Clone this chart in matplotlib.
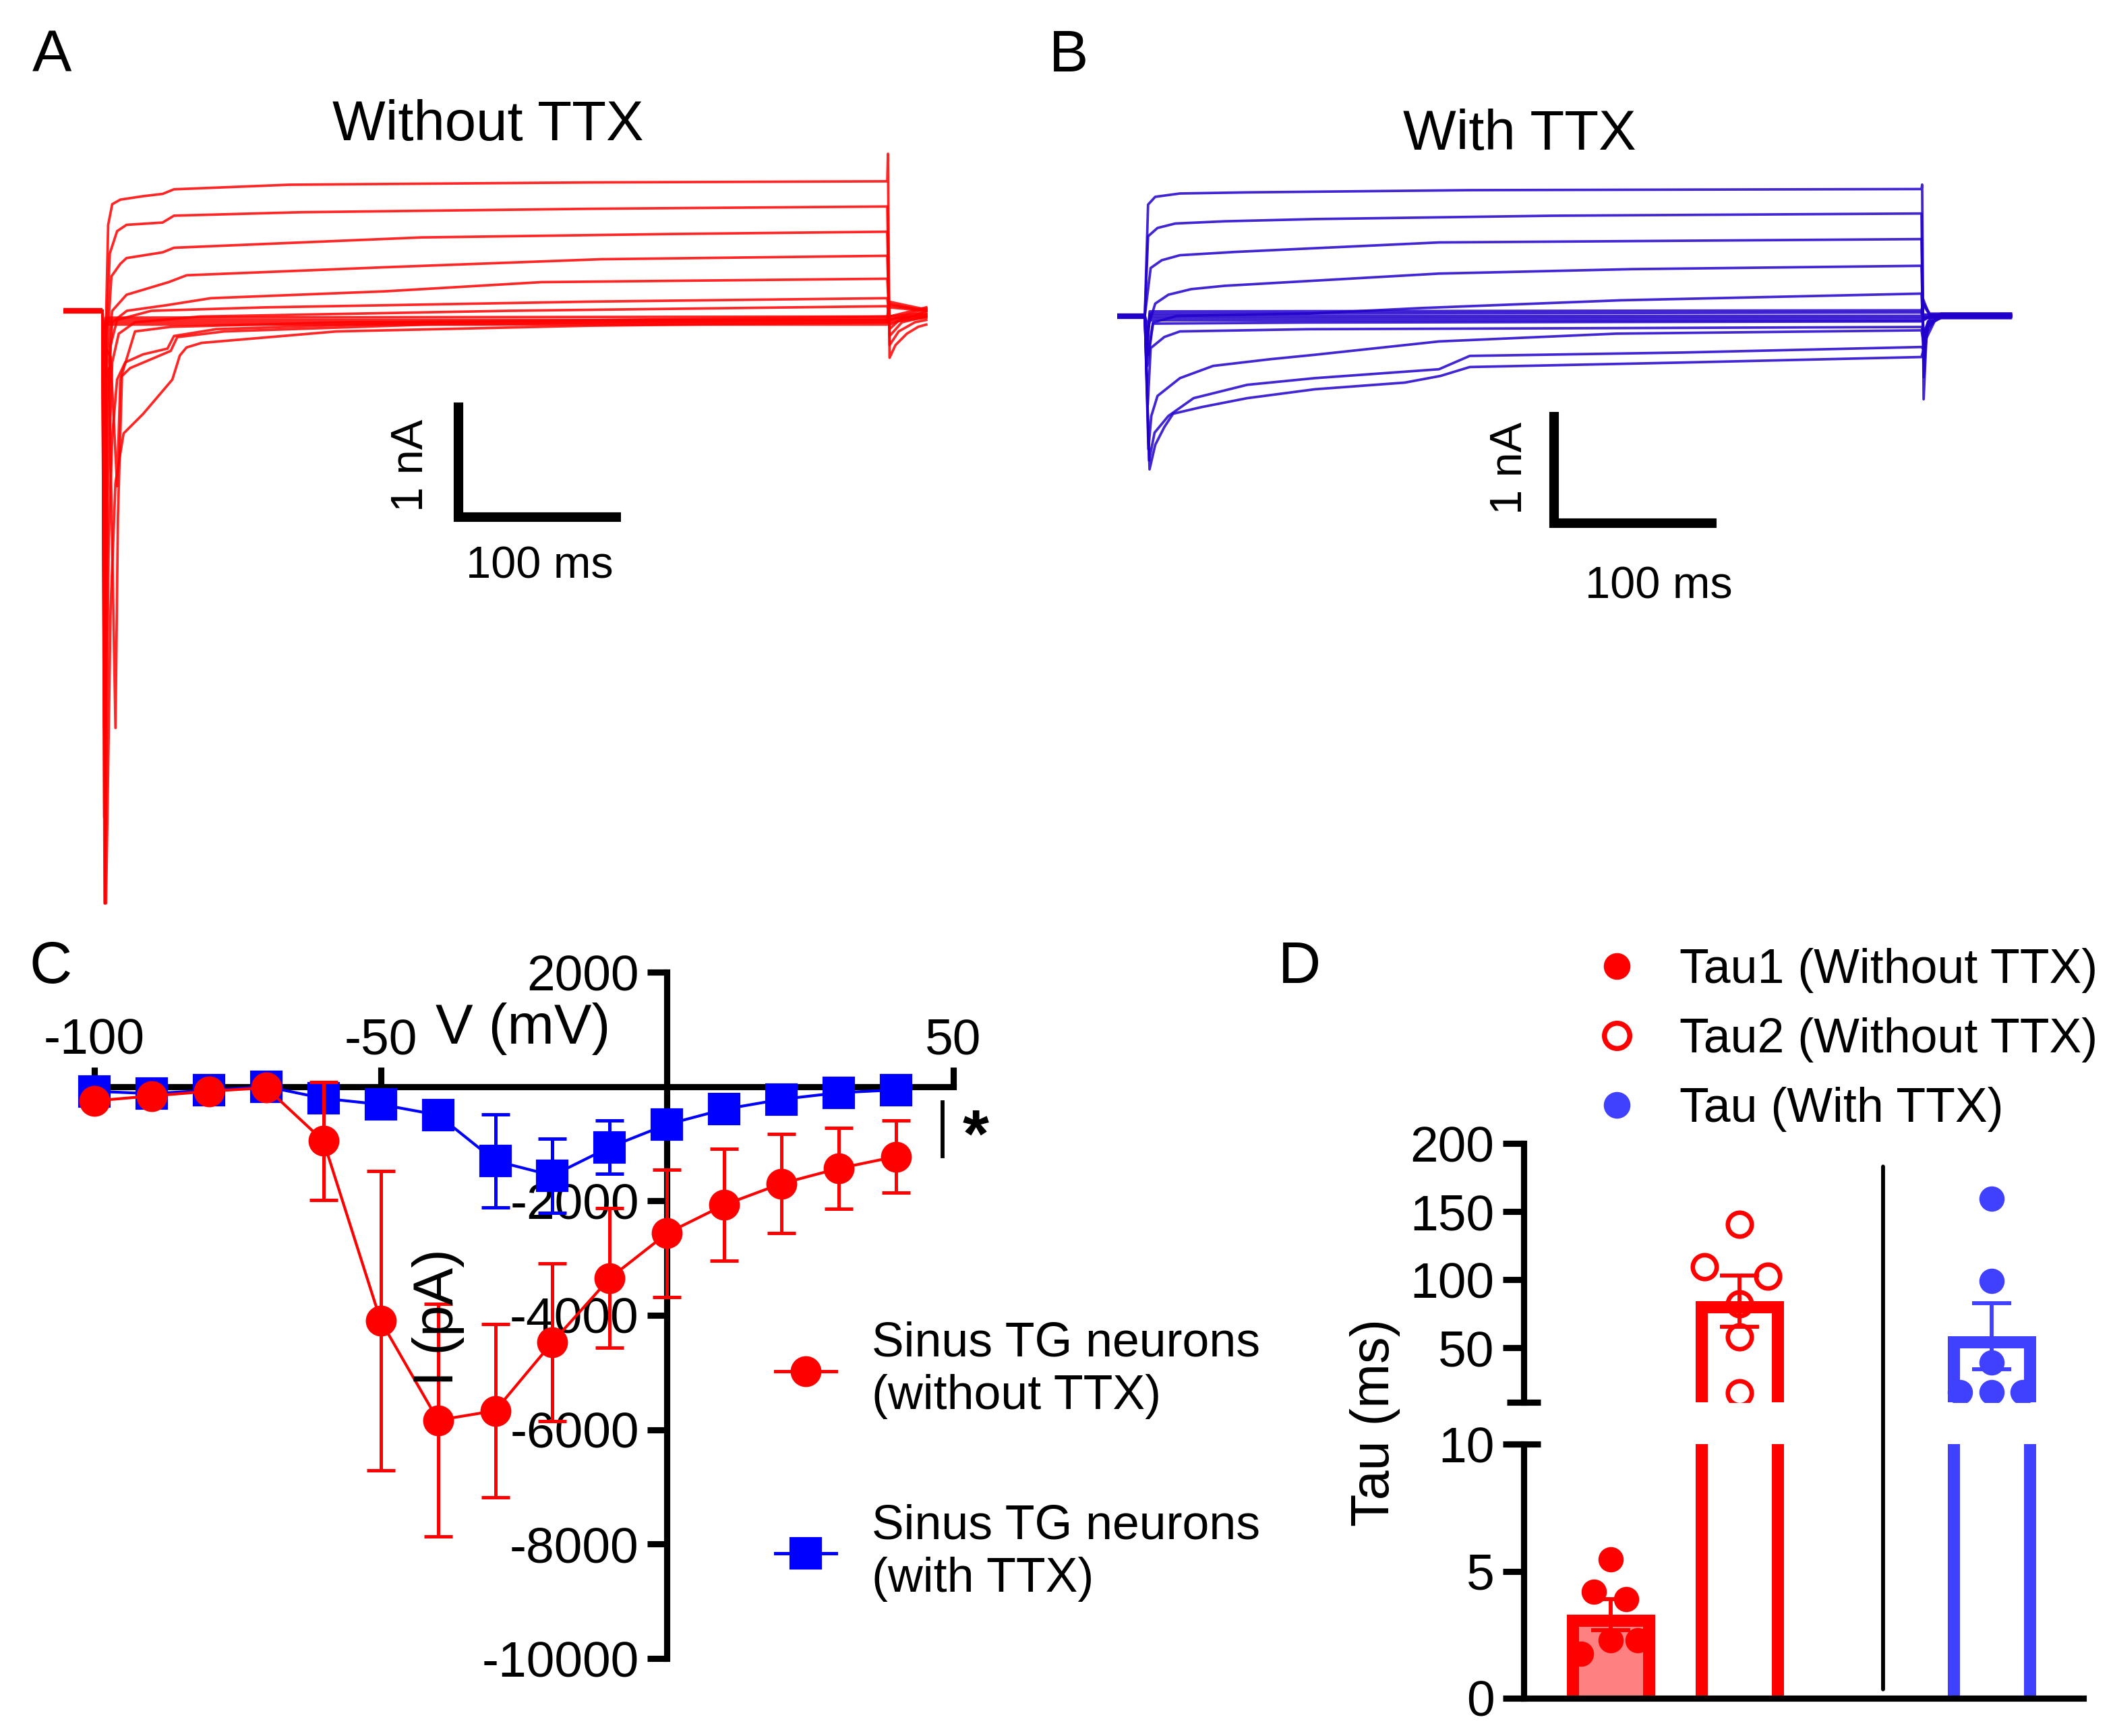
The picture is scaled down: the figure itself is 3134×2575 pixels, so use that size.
import matplotlib
matplotlib.use("Agg")
import matplotlib.pyplot as plt
from matplotlib.lines import Line2D
from matplotlib.patches import Rectangle, ConnectionPatch

plt.rcParams['font.family'] = ['Liberation Sans', 'DejaVu Sans']
plt.rcParams['axes.unicode_minus'] = False

W, H, DPI = 3134, 2575, 300

# ======================= DATA =======================
# Panels A/B: whole-cell current traces, (time ms, current nA), one per voltage step
A_step_end = 483
A_hold = [-24, 0]
A_traces = [
    [(0, 0), (0.7, -1.53), (2.0, -0.2), (3.5, 0.75), (6, 0.93), (11, 0.97), (25, 1.0), (37, 1.02), (44, 1.06), (115, 1.10), (300, 1.12), (483, 1.13), (483.4, 1.37), (484.4, -0.41), (488, -0.3), (495, -0.2), (502, -0.14), (507, -0.12)],
    [(0, 0), (0.8, -1.92), (2.2, -0.3), (4.5, 0.5), (9, 0.695), (14.8, 0.75), (37, 0.77), (44, 0.83), (122, 0.86), (300, 0.89), (483, 0.91), (484.4, -0.3), (490, -0.18), (500, -0.1), (507, -0.08)],
    [(0, 0), (0.8, -2.28), (2.4, -0.4), (5.5, 0.3), (11, 0.41), (14.8, 0.46), (37, 0.51), (44, 0.55), (196, 0.64), (350, 0.67), (483, 0.69), (484.4, -0.22), (492, -0.1), (507, -0.05)],
    [(0, 0), (0.9, -2.64), (2.6, -0.5), (6, 0.0), (14.8, 0.14), (40.7, 0.25), (51.8, 0.31), (174, 0.38), (307, 0.45), (483, 0.48), (484.4, -0.16), (492, -0.06), (507, -0.03)],
    [(0, 0), (1.0, -3.64), (2.8, -0.8), (6, -0.1), (15, 0.0), (40, 0.05), (66.7, 0.11), (174, 0.17), (270, 0.25), (483, 0.28), (484.4, -0.12), (507, 0.0)],
    [(0, 0), (1.1, -4.42), (2.9, -1.2), (5, -0.3), (9, -0.08), (30, 0.0), (100, 0.03), (300, 0.08), (483, 0.11), (484.4, -0.08), (507, 0.02)],
    [(0, 0), (1.3, -5.17), (3.2, -1.6), (6, -0.45), (10, -0.2), (20, -0.1), (60, -0.05), (250, 0.0), (483, 0.04), (484.4, -0.05), (507, 0.03)],
    [(0, 0), (1.6, -5.17), (3.8, -2.0), (6, -1.1), (9, -0.6), (14, -0.45), (25, -0.38), (40, -0.33), (44, -0.22), (70, -0.16), (200, -0.1), (483, -0.05), (507, -0.02)],
    [(0, 0), (2.2, -5.17), (5, -2.6), (8, -1.5), (13, -1.07), (25, -0.9), (43, -0.6), (47.6, -0.39), (51.7, -0.32), (61, -0.28), (144, -0.18), (300, -0.13), (483, -0.1), (507, -0.06)],
    [(0, 0), (1.5, -0.6), (4, -0.5), (8, -3.64), (9.5, -1.8), (12, -0.57), (17, -0.5), (42, -0.35), (46, -0.23), (75, -0.18), (200, -0.12), (483, -0.08), (507, -0.05)],
    [(0, 0), (1, -0.3), (5, -0.4), (9, -1.53), (11, -0.6), (20, -0.18), (42, -0.14), (150, -0.1), (483, -0.07), (507, -0.04)],
    [(0, 0), (0.5, -0.3), (2, -0.06), (483, -0.05), (484, 0.03), (507, 0.0)],
    [(0, 0), (0.5, -0.4), (2, -0.08), (483, -0.08), (484, 0.05), (507, 0.0)],
    [(0, 0), (0.5, -0.5), (2, -0.1), (483, -0.1), (484, 0.06), (507, 0.0)],
    [(0, 0), (0.5, -0.6), (2, -0.12), (483, -0.12), (484, 0.08), (507, 0.01)],
]
B_step_end = 478
B_hold = [-17, 0]
B_tail = [478, 533]
B_traces = [
    [(0, 0), (2, 1.0), (6.4, 1.07), (21.6, 1.10), (63, 1.11), (200, 1.13), (478, 1.14), (478.4, 1.18), (479.3, -0.75), (481, -0.2), (486, -0.05), (492, 0.0), (533, 0.0)],
    [(0, 0), (2, 0.715), (7.8, 0.79), (18.7, 0.83), (49, 0.85), (104.6, 0.87), (250, 0.9), (478, 0.92), (479.3, -0.55), (481, -0.15), (486, -0.04), (492, 0.0), (533, 0.0)],
    [(0, 0), (3.6, 0.43), (10.4, 0.5), (21.6, 0.545), (56, 0.575), (181, 0.66), (478, 0.69), (479.3, -0.4), (482, -0.1), (490, 0.01), (533, 0.01)],
    [(0, 0), (2, -0.1), (6.4, 0.11), (14.5, 0.19), (28.5, 0.24), (49, 0.27), (181, 0.38), (300, 0.42), (478, 0.45), (479.3, -0.3), (482, -0.08), (490, -0.01), (533, -0.01)],
    [(0, 0), (2, -0.35), (5, -0.06), (20, 0.0), (100, 0.02), (170, 0.07), (293, 0.14), (478, 0.2), (479.3, -0.2), (482, -0.05), (490, 0.02), (533, 0.02)],
    [(0, 0), (2.2, -1.2), (4, -0.9), (7.8, -0.72), (21.6, -0.56), (42, -0.45), (77, -0.39), (104.6, -0.35), (181, -0.23), (290, -0.16), (478, -0.13), (479.3, -0.25), (482, -0.06), (490, -0.02), (533, -0.02)],
    [(0, 0), (2.9, -1.38), (6.4, -1.16), (12, -1.0), (17.4, -0.88), (35, -0.82), (63, -0.74), (104.6, -0.66), (160, -0.6), (182, -0.54), (200, -0.46), (330, -0.42), (478, -0.37), (479.3, -0.3), (482, -0.08), (490, -0.01), (533, -0.01)],
    [(0, 0), (2.6, -1.3), (6, -1.05), (14.5, -0.9), (30, -0.74), (63, -0.62), (104.6, -0.56), (181, -0.48), (200, -0.36), (330, -0.33), (478, -0.28), (479.3, -0.3), (482, -0.07), (490, 0.0), (533, 0.0)],
    [(0, 0), (1.8, -0.8), (3.6, -0.29), (12, -0.19), (21.6, -0.14), (100, -0.12), (478, -0.1), (479.3, -0.15), (484, 0.0), (533, 0.0)],
    [(0, 0), (1.5, -0.45), (5, -0.07), (100, -0.06), (478, -0.05), (484, 0.0), (533, 0.0)],
    [(0, 0), (1, -0.2), (3, -0.04), (478, -0.04), (484, 0.0), (533, 0.0)],
    [(0, 0), (1, -0.2), (3, -0.02), (478, -0.02), (484, 0.0), (533, 0.0)],
    [(0, 0), (1, -0.3), (3, 0.02), (478, 0.03), (479, 0.1), (483, 0.01), (533, 0.01)],
    [(0, 0), (1, -0.35), (3, 0.04), (478, 0.05), (479, 0.12), (483, 0.02), (533, 0.02)],
    [(0, 0), (1, -0.4), (3, 0.0), (478, 0.0), (479, 0.15), (483, 0.0), (533, 0.0)],
]

# Panel C: I-V relation (mean +/- SEM, pA)
V_mV = [-100, -90, -80, -70, -60, -50, -40, -30, -20, -10, 0, 10, 20, 30, 40]
I_noTTX = [-250, -165, -83, -20, -952, -4096, -5834, -5668, -4469, -3351, -2566, -2069, -1696, -1431, -1224]
SEM_noTTX = [60, 60, 60, 60, 1035, 2620, 2030, 1510, 1380, 1220, 1110, 975, 870, 710, 630]
I_TTX = [-83, -124, -66, 0, -207, -313, -497, -1300, -1556, -1059, -662, -397, -223, -108, -58]
SEM_TTX = [50, 50, 50, 50, 60, 80, 150, 815, 650, 470, 150, 100, 80, 60, 50]
C_xticks = [-100, -50, 50]
C_yticks = [2000, -2000, -4000, -6000, -8000, -10000]

# Panel D: time constants (ms)
tau_labels = ['Tau1 (Without TTX)', 'Tau2 (Without TTX)', 'Tau (With TTX)']
tau_pos = [0, 1, 2.96]
tau_mean = [3.29, 84.1, 58.5]
tau_sem = [0.62, 18.8, 24.3]
tau1_pts = [5.46, 4.18, 3.91, 2.28, 2.28, 1.74]
tau1_jit = [0, -0.13, 0.12, 0, 0.21, -0.23]
tau2_pts = [140.4, 109.5, 102.6, 82.1, 58.2, 17.1]
tau2_jit = [0, -0.27, 0.22, 0, 0, 0]
tau3_pts = [159.4, 99.3, 39.3, 17.5, 17.5, 17.5]
tau3_jit = [0, 0, 0, -0.25, 0, 0.24]
D_up_ticks = [50, 100, 150, 200]
D_lo_ticks = [0, 5, 10]

# ======================= STYLE =======================
RED = '#FF0000'
PINK = '#FF8080'
BLUE_C = '#0000FF'
BLUE_TR = '#2200CC'
BLUE_D = '#4040FF'
SPW = 2.2

fig = plt.figure(figsize=(W / DPI, H / DPI), dpi=DPI)


def box(x0, y0, x1, y1):
    return [x0 / W, 1 - y1 / H, (x1 - x0) / W, (y1 - y0) / H]


def fxy(x, y):
    return x / W, 1 - y / H


def trace_axes(x0, y0, x1, y1, t0_px, base_px, px_ms, px_nA):
    ax = fig.add_axes(box(x0, y0, x1, y1))
    ax.set_xlim((x0 - t0_px) / px_ms, (x1 - t0_px) / px_ms)
    ax.set_ylim(-(y1 - base_px) / px_nA, (base_px - y0) / px_nA)
    ax.axis('off')
    return ax


def draw_traces(ax, traces, hold, color, extra=None):
    ax.plot(hold, [0, 0], color=color, lw=2.0, solid_capstyle='butt')
    if extra is not None:
        ax.plot(extra, [0, 0], color=color, lw=2.0, alpha=0.9, solid_capstyle='butt')
    for tr in traces:
        t = [p[0] for p in tr]
        i = [p[1] for p in tr]
        ax.plot(t, i, color=color, lw=0.9, alpha=0.85, solid_joinstyle='round')


def scale_bar(ax, t, i, lab_nA_xy, lab_ms_xy):
    ax.plot([t, t, t + 100], [i, i - 1, i - 1], color='black', lw=3.4,
            solid_joinstyle='miter', solid_capstyle='butt')
    fig.text(*fxy(*lab_nA_xy), '1 nA', rotation=90, ha='center', va='center', fontsize=16)
    fig.text(*fxy(*lab_ms_xy), '100 ms', ha='center', va='center', fontsize=16)


# ---------------- Panel A ----------------
axA = trace_axes(40, 180, 1440, 1380, 152, 461, 2.41, 170)
draw_traces(axA, A_traces, A_hold, RED)
scale_bar(axA, 219, -0.8, (610, 690), (800, 840))
fig.text(*fxy(48, 84), 'A', fontsize=21, ha='left', va='center')
fig.text(*fxy(724, 186), 'Without TTX', fontsize=20, ha='center', va='center')

# ---------------- Panel B ----------------
axB = trace_axes(1620, 180, 3050, 1000, 1698, 468.5, 2.41, 165)
draw_traces(axB, B_traces, B_hold, BLUE_TR, extra=B_tail)
scale_bar(axB, 251.9, -0.864, (2240, 694), (2460, 870))
fig.text(*fxy(1556, 84), 'B', fontsize=21, ha='left', va='center')
fig.text(*fxy(2254, 200), 'With TTX', fontsize=20, ha='center', va='center')

# ---------------- Panel C ----------------
axC = fig.add_axes(box(140, 1442, 1414, 2460))
axC.set_xlim(-100, 50)
axC.set_ylim(-10000, 2000)
axC.spines['top'].set_position(('data', 0))
axC.spines['left'].set_position(('data', 0))
axC.spines['right'].set_visible(False)
axC.spines['bottom'].set_visible(False)
for s in ('top', 'left'):
    axC.spines[s].set_linewidth(SPW)
axC.xaxis.tick_top()
axC.set_xticks(C_xticks)
axC.set_yticks(C_yticks)
axC.tick_params(axis='both', direction='out', length=7, width=SPW, labelsize=18)
axC.tick_params(axis='x', pad=1)
axC.tick_params(axis='y', pad=3)

ebb = axC.errorbar(V_mV, I_TTX, yerr=SEM_TTX, fmt='s-', color=BLUE_C, ms=10.5, lw=1.0,
                   elinewidth=1.2, capsize=5, capthick=1.2, zorder=3)
ebr = axC.errorbar(V_mV, I_noTTX, yerr=SEM_noTTX, fmt='o-', color=RED, ms=10, lw=1.0,
                   elinewidth=1.2, capsize=5, capthick=1.2, zorder=4)
for cont in (ebb, ebr):
    for art in cont.get_children():
        art.set_clip_on(False)

axC.plot([48.1, 48.1], [-275, -1218], color='black', lw=1.4, clip_on=False)
axC.text(53.9, -920, '*', fontsize=24, fontweight='bold', ha='center', va='center')
fig.text(*fxy(776, 1526), 'V (mV)', fontsize=20, ha='center', va='center')
fig.text(*fxy(650, 1954), 'I (pA)', fontsize=20, ha='center', va='center', rotation=90)
fig.text(*fxy(44, 1436), 'C', fontsize=21, ha='left', va='center')

hC = [Line2D([], [], color=RED, marker='o', ms=10, lw=1.2),
      Line2D([], [], color=BLUE_C, marker='s', ms=10.5, lw=1.2)]
legC = axC.legend(hC, ['Sinus TG neurons\n(without TTX)', 'Sinus TG neurons\n(with TTX)'],
                  loc='upper left', bbox_to_anchor=fxy(1150, 1960), bbox_transform=fig.transFigure,
                  frameon=False, fontsize=17.2, handlelength=1.25, handletextpad=0.75,
                  borderpad=0, borderaxespad=0, labelspacing=1.75)
for t in legC.get_texts():
    t.set_linespacing(1.22)

# ---------------- Panel D ----------------
xl = ((2260 - 2389) / 191, (3090 - 2389) / 191)
axU = fig.add_axes(box(2260, 1696, 3090, 2080))
axL = fig.add_axes(box(2260, 2142, 3090, 2519))
axU.set_ylim(10, 200)
axL.set_ylim(0, 10)
for ax in (axU, axL):
    ax.set_xlim(*xl)
    ax.spines['right'].set_visible(False)
    ax.spines['top'].set_visible(False)
    ax.spines['left'].set_linewidth(SPW)
    ax.spines['bottom'].set_linewidth(SPW)
    ax.set_xticks([])
    ax.tick_params(axis='y', direction='out', length=7.5, width=SPW, labelsize=18, pad=3)
    ax.patch.set_alpha(0)
axU.spines['bottom'].set_visible(False)
axU.set_yticks(D_up_ticks)
axL.set_yticks(D_lo_ticks)

BAR_W = 131 / 191
BAR_LW_PX = 18
bar_face = [PINK, 'none', 'none']
bar_edge = [RED, RED, BLUE_D]
for ax in (axU, axL):
    p0 = ax.transData.transform((0, 0))
    pxu = ax.transData.transform((1, 1)) - p0
    hx = BAR_LW_PX / 2 / pxu[0]
    hy = BAR_LW_PX / 2 / pxu[1]
    lo, hi = ax.get_ylim()
    for x, m, fc, ec in zip(tau_pos, tau_mean, bar_face, bar_edge):
        if m <= lo:
            continue
        ax.add_patch(Rectangle((x - BAR_W / 2 + hx, -hy), BAR_W - 2 * hx, m,
                               facecolor=fc, edgecolor=ec, lw=BAR_LW_PX * 72 / DPI,
                               joinstyle='miter', zorder=2))
    for x, m, s, c in zip(tau_pos, tau_mean, tau_sem, bar_edge):
        if lo < m < hi:
            ax.errorbar([x], [m], yerr=[s], fmt='none', ecolor=c, elinewidth=1.4,
                        capsize=7, capthick=1.4, zorder=4)

axL.plot([tau_pos[0] + d for d in tau1_jit], tau1_pts, 'o', color=RED, ms=9, mew=0, zorder=3)
axU.plot([tau_pos[1] + d for d in tau2_jit], tau2_pts, 'o', mfc='none', mec=RED, ms=8.5, mew=1.6, zorder=3)
axU.plot([tau_pos[2] + d for d in tau3_jit], tau3_pts, 'o', color=BLUE_D, ms=9, mew=0, zorder=3)

# break marks on the y axis
for ax, yy in ((axU, 0), (axL, 1)):
    ax.plot([-0.03, 0.03], [yy, yy], transform=ax.transAxes, color='black', lw=SPW, clip_on=False,
            solid_capstyle='butt')

sep = ConnectionPatch(xyA=(2.115, 183), coordsA=axU.transData, xyB=(2.115, 0.35), coordsB=axL.transData,
                      color='black', lw=1.4)
fig.add_artist(sep)

fig.text(*fxy(1896, 1436), 'D', fontsize=21, ha='left', va='center')
fig.text(*fxy(2040, 2110), 'Tau (ms)', fontsize=19, ha='center', va='center', rotation=90)

hD = [Line2D([], [], ls='none', marker='o', color=RED, ms=9.5, mew=0),
      Line2D([], [], ls='none', marker='o', mfc='none', mec=RED, ms=9, mew=1.8),
      Line2D([], [], ls='none', marker='o', color=BLUE_D, ms=9.5, mew=0)]
legD = axU.legend(hD, tau_labels, loc='upper left', bbox_to_anchor=fxy(2362, 1406),
                  bbox_transform=fig.transFigure, frameon=False, fontsize=17.2,
                  handlelength=1.0, handletextpad=0.8, borderpad=0, borderaxespad=0,
                  labelspacing=0.5)

fig.savefig('out.png', dpi=DPI)
